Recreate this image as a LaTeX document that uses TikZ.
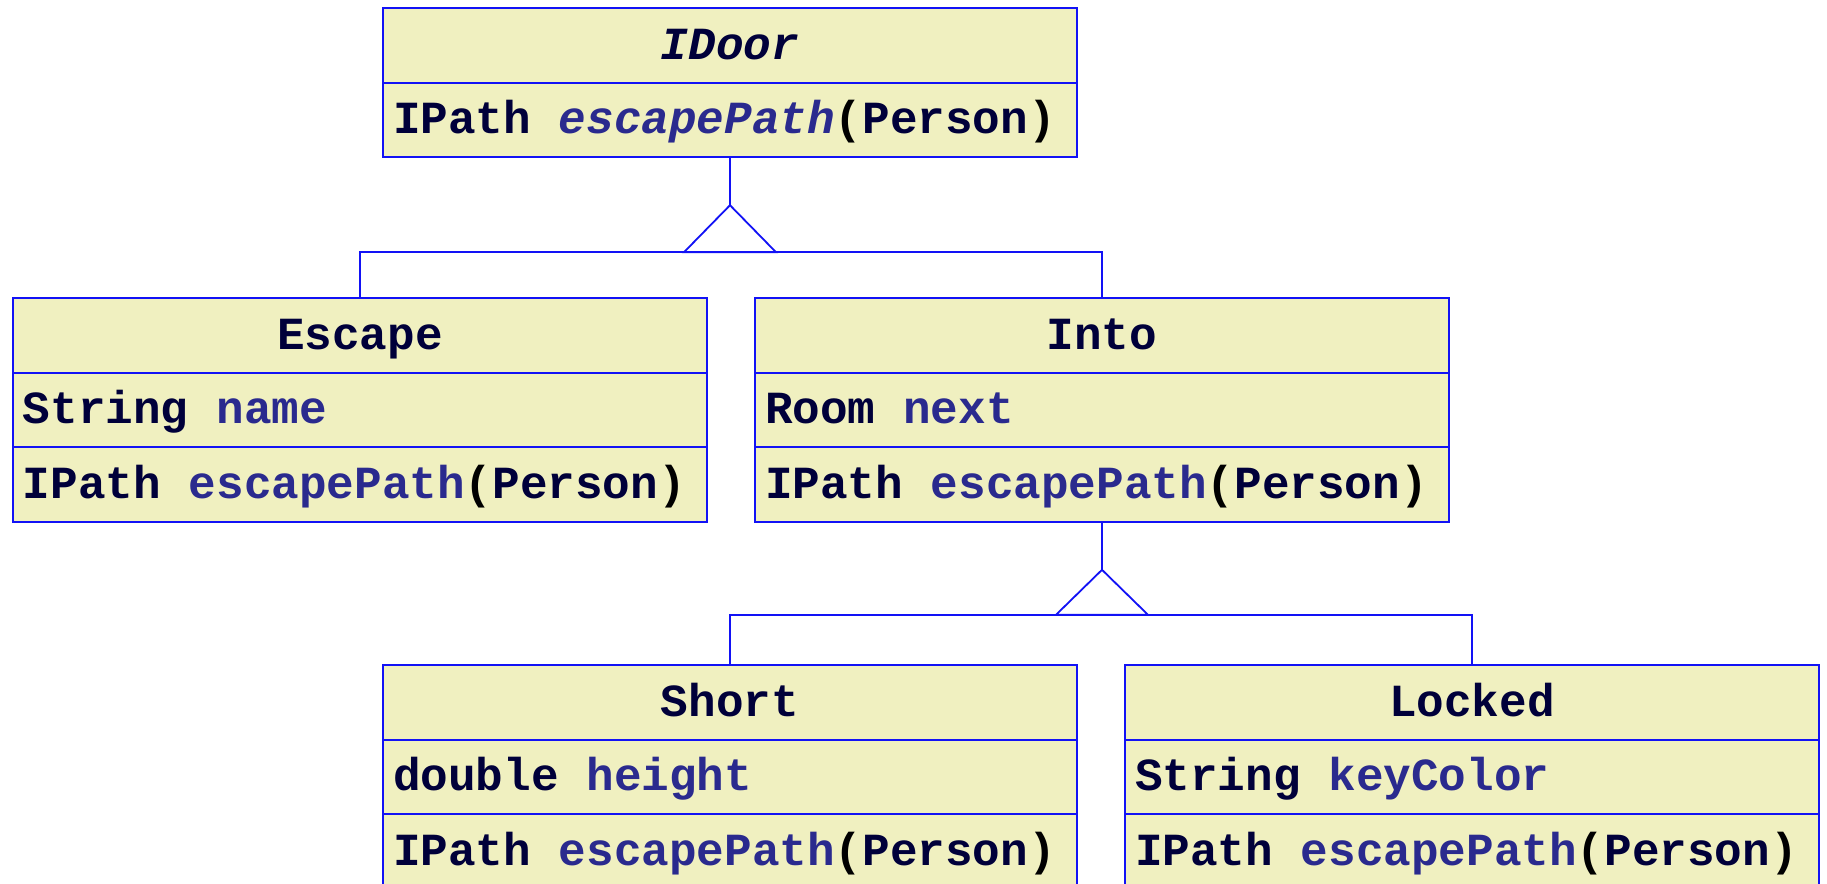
\documentclass[tikz,border=0pt]{standalone}
\usepackage{fontspec}
\setmonofont{Liberation Mono}
\usetikzlibrary{positioning}
\definecolor{umlfill}{HTML}{F0F0C0}
\definecolor{umlline}{HTML}{1212F5}
\definecolor{typecol}{HTML}{00003A}
\definecolor{namecol}{HTML}{2A2A8E}
\newcommand{\nm}[1]{\textcolor{namecol}{#1}}
\newcommand{\args}[1]{\textcolor{black}{(}#1\textcolor{black}{)}}
% one character wide word space
\newcommand{\umlfont}{\ttfamily\bfseries\fontsize{23}{27}\selectfont\spaceskip=13.9pt\relax}
\begin{document}
\begin{tikzpicture}[x=1pt,y=1pt,
  every node/.style={draw=umlline,fill=umlfill,line width=0.9pt,outer sep=0pt,
    inner xsep=5pt,inner ysep=0pt,minimum height=37.3pt,text height=18pt,text depth=4pt,
    font=\umlfont,text=typecol},
  head/.style={text width=337pt,align=flush center},
  row/.style={text width=337pt,align=flush left},
  link/.style={draw=umlline,line width=0.9pt}
  ]
    \useasboundingbox (0,0) rectangle (913.5,-442);

    % interface
    \node[head,anchor=north west] (idoor) at (191.5,-4) {\itshape IDoor};
    \node[row,below=0pt of idoor] (idoorm) {IPath \nm{\itshape escapePath}\args{Person}};

    % first level
    \node[head,anchor=north west] (escape) at (6.5,-149) {Escape};
    \node[row,below=0pt of escape] (escapea) {String \nm{name}};
    \node[row,below=0pt of escapea] (escapem) {IPath \nm{escapePath}\args{Person}};

    \node[head,anchor=north west] (into) at (377.5,-149) {Into};
    \node[row,below=0pt of into] (intoa) {Room \nm{next}};
    \node[row,below=0pt of intoa] (intom) {IPath \nm{escapePath}\args{Person}};

    % second level
    \node[head,anchor=north west] (short) at (191.5,-332.5) {Short};
    \node[row,below=0pt of short] (shorta) {double \nm{height}};
    \node[row,below=0pt of shorta] (shortm) {IPath \nm{escapePath}\args{Person}};

    \node[head,anchor=north west] (locked) at (562.5,-332.5) {Locked};
    \node[row,below=0pt of locked] (lockeda) {String \nm{keyColor}};
    \node[row,below=0pt of lockeda] (lockedm) {IPath \nm{escapePath}\args{Person}};

    % generalization arrows
    \coordinate[below=24pt of idoorm] (apexa);
    \draw[link] (idoorm.south) -- (apexa);
    \draw[link] (apexa) -- ++(-23,-23.5) -- ++(46,0) -- cycle;
    \draw[link] (escape.north) -- ++(0,23) -| (into.north);

    \coordinate[below=24pt of intom] (apexb);
    \draw[link] (intom.south) -- (apexb);
    \draw[link] (apexb) -- ++(-23,-22.5) -- ++(46,0) -- cycle;
    \draw[link] (short.north) -- ++(0,25) -| (locked.north);
\end{tikzpicture}
\end{document}
